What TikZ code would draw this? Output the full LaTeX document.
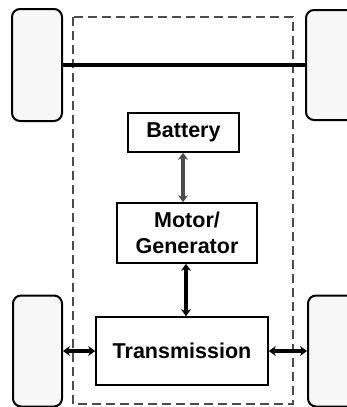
\documentclass[tikz,border=0pt]{standalone}
\usepackage{fontspec}
\setmainfont{Liberation Sans}
\usetikzlibrary{arrows.meta}
\begin{document}
\begin{tikzpicture}[x=1pt,y=-1pt,
  wheel/.style={draw=black,line width=2pt,fill=gray!6,rounded corners=8pt,inner sep=0pt},
  blockbox/.style={draw=black,line width=1.6pt,fill=white,inner sep=0pt,align=center,
     font=\fontsize{21.5}{26}\selectfont\bfseries},
  link/.style={line width=3.5pt,{Stealth[length=7pt,width=10pt]}-{Stealth[length=7pt,width=10pt]}},
  axle/.style={line width=3.2pt},
  frame/.style={draw=gray!60!black,line width=1.2pt,dash pattern=on 9pt off 5pt}]
\useasboundingbox (0,0) rectangle (347,407);
\clip (0,0) rectangle (347,407);
\draw[frame] (73,17) rectangle (293,404);
\node[wheel,minimum width=50pt,minimum height=112pt] (wTL) at (37,65) {};
\node[wheel,minimum width=54pt,minimum height=110pt] (wTR) at (333,65) {};
\node[wheel,minimum width=49pt,minimum height=111pt] (wBL) at (37.5,351) {};
\node[wheel,minimum width=52pt,minimum height=111pt] (wBR) at (334,351) {};
\node[blockbox,minimum width=111pt,minimum height=39pt] (bat) at (183.5,132.5) {Battery};
\node[blockbox,minimum width=140pt,minimum height=60pt] (mot) at (187,233) {Motor/\\Generator};
\node[blockbox,minimum width=172pt,minimum height=68pt] (tra) at (182,351) {Transmission};
\draw[axle] (wTL.east) -- (wTR.west);
\draw[link,draw=gray!60!black,fill=gray!60!black] (bat.south -| 183,0) -- (mot.north -| 183,0);
\draw[link] (mot.south -| 186,0) -- (tra.north -| 186,0);
\draw[link] (wBL.east) -- (tra.west);
\draw[link] (tra.east) -- (wBR.west);
\end{tikzpicture}
\end{document}
